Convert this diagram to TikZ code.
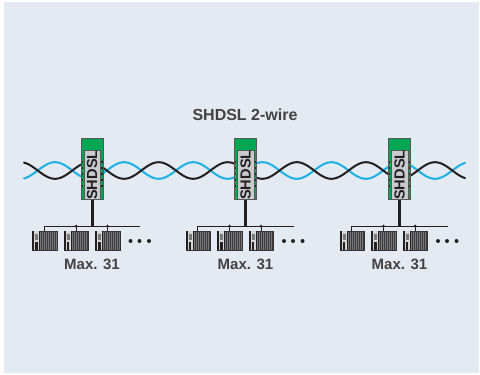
\documentclass[tikz,border=0pt]{standalone}
\usepackage{fontspec}
\setmainfont{Liberation Sans}
\definecolor{bgc}{HTML}{E3EAF1}
\definecolor{wireblue}{HTML}{1BB1E7}
\definecolor{wireblack}{HTML}{231F20}
\definecolor{modgreen}{HTML}{00A651}
\definecolor{modedge}{HTML}{55595A}
\definecolor{modgrey}{HTML}{C9CACC}
\definecolor{devgrey}{HTML}{77797B}
\tikzset{
  wire/.style={line width=2pt,line cap=round},
  modbody/.style={draw=modedge,fill=modgreen,line width=1pt,minimum width=22pt,minimum height=60.5pt,inner sep=0pt},
  modlabel/.style={draw=modedge,fill=modgrey,line width=0.5pt,minimum width=48.5pt,minimum height=16.5pt,inner sep=0pt,rotate=90,font=\bfseries\fontsize{14.6}{14.6}\selectfont,text=wireblack},
  stem/.style={line width=3pt,draw=wireblack},
  bus/.style={line width=1pt,draw=wireblack},
  drop/.style={line width=1pt,draw=wireblack},
  device/.style={fill=devgrey,draw=wireblack!80!devgrey,line width=0.5pt,minimum width=24.5pt,minimum height=19.5pt,inner sep=0pt},
  maxlabel/.style={font=\bfseries\fontsize{15}{15}\selectfont,text=wireblack!85!white},
  titlelabel/.style={font=\bfseries\fontsize{16}{16}\selectfont,text=wireblack!85!white},
  ell/.style={circle,fill=wireblack,minimum size=4pt,inner sep=0pt}
}
\begin{document}
\begin{tikzpicture}[x=1pt,y=-1pt]
\useasboundingbox (0,0) rectangle (480,375);
\fill[bgc] (4,2) rectangle (479,373);
\node[titlelabel] (title) at (245,115) {SHDSL 2-wire};
% twisted pair
\draw[wire,wireblue] plot[domain=24:465,samples=220] (\x,{170.5-8.3*cos((\x-55)*5.2098)});
\draw[wire,wireblack] plot[domain=24:465,samples=220] (\x,{170.5+8.3*cos((\x-55)*5.2098)});
\foreach \c/\n in {92/a,245.5/b,399.5/c}{
  % module
  \node[modbody] (mod\n) at (\c,169) {};
  \foreach \dy in {-12,-6,0,6,12}{
    \fill[wireblack] (\c-10.5,173+\dy) rectangle ++(1.4,2.2);
    \fill[wireblack] (\c+9.1,173+\dy) rectangle ++(1.4,2.2);
  }
  \node[modlabel] (lab\n) at (\c,175) {SHDSL};
  % devices
  \foreach \k/\dx in {1/-47.5,2/-16,3/15.5}{
    \node[device] (dev\n\k) at (\c+\dx,240.5) {};
    \foreach \s in {0,2,...,14}{
      \draw[wireblack!70!devgrey,line width=0.5pt] (\c+\dx-3.2+\s,231) -- ++(0,19);
    }
    \fill[white!70!devgrey] (\c+\dx-10.5,231.2) rectangle ++(5.2,18.6);
    \fill[wireblack] (\c+\dx-12.2,230.8) rectangle ++(1.7,19.4);
    \fill[wireblack] (\c+\dx-5.3,230.8) rectangle ++(0.8,19.4);
    \fill[wireblack] (\c+\dx-9.2,242) rectangle ++(2.6,7.5);
    \fill[devgrey] (\c+\dx-9.5,233.5) rectangle ++(3.2,6);
  }
  % bus
  \coordinate (busl\n) at (\c-48,226);
  \coordinate (busr\n) at (\c+48,226);
  \coordinate (junc\n) at (\c,226);
  \draw[stem] (mod\n.south) -- (junc\n);
  \draw[bus] (busl\n) -- (busr\n);
  \draw[drop] (busl\n) -- (busl\n |- dev\n1.north);
  \draw[drop] (\c-16,226) -- (dev\n2.north);
  \draw[drop] (\c+15.5,226) -- (dev\n3.north);
  \fill[wireblack] (\c-16,226) circle (1.5pt);
  \fill[wireblack] (\c+15.5,226) circle (1.5pt);
  % dots
  \node[ell] (da\n) at (\c+38.5,241) {};
  \node[ell] (db\n) at (\c+47.5,241) {};
  \node[ell] (dc\n) at (\c+57,241) {};
  \node[maxlabel] (max\n) at (\c,264) {Max. 31};
}
\end{tikzpicture}
\end{document}
